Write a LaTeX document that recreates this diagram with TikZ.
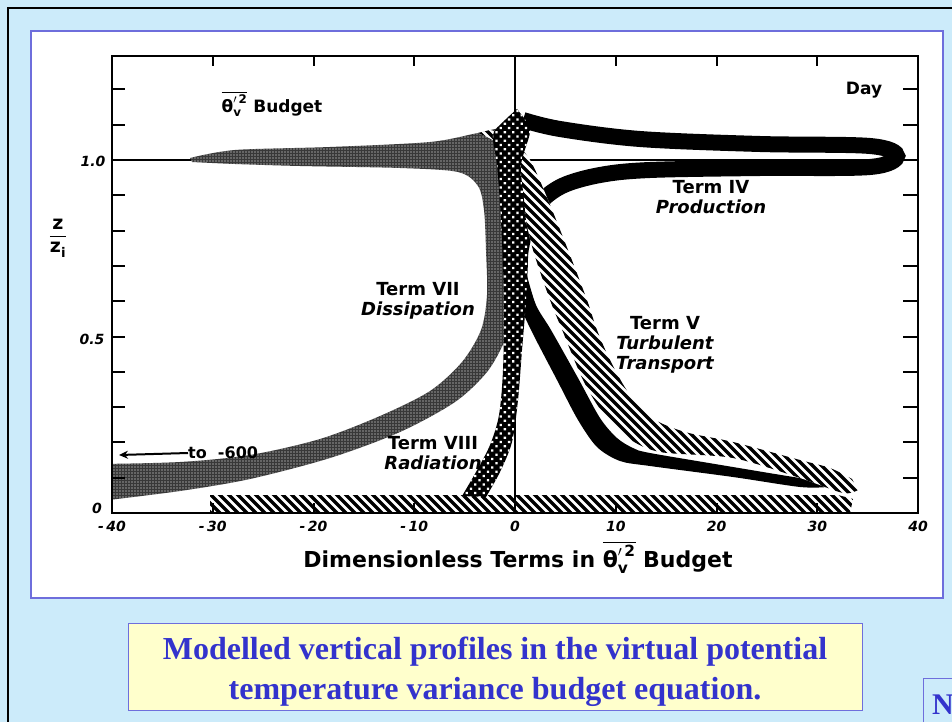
\documentclass[tikz,border=0pt]{standalone}
\usepackage{amsmath}
\usepackage{fontspec}
\setmainfont{Liberation Serif}
\newfontfamily\plotfont{DejaVu Sans}
\usetikzlibrary{patterns.meta,arrows.meta}
\definecolor{slidebg}{RGB}{204,235,250}
\definecolor{panelblue}{RGB}{110,110,220}
\definecolor{captionblue}{RGB}{51,51,204}
\definecolor{captionbg}{RGB}{255,255,204}
\newcommand{\thetavsq}{$\overline{\text{θ}^{\prime\,\text{2}}_{\text{v}}}$}

\begin{document}
\begin{tikzpicture}[x=1pt,y=-1pt]
\tikzstyle{every node}+=[inner sep=0pt]
\tikzstyle{plotlabel}=[font=\plotfont\bfseries\fontsize{18}{20}\selectfont,align=center]
\tikzstyle{ticklabel}=[font=\plotfont\bfseries\itshape\fontsize{14}{16}\selectfont]
\tikzstyle{dissband}=[preaction={fill=black!78},pattern={Dots[distance=3pt,radius=0.7pt]},pattern color=white]
\tikzstyle{hatchline}=[line width=3.4pt]
\tikzstyle{netband}=[preaction={fill=black},pattern={Dots[angle=45,distance=6pt,radius=1.6pt]},pattern color=white]
\clip (0,0) rectangle (952,722);
\fill[slidebg] (0,0) rectangle (952,722);
\draw[line width=2.5pt] (8,730) -- (8,8) -- (960,8);
\draw[panelblue,line width=1.5pt,fill=white] (31,31) rectangle (943,598);

% axes lines through 0 and 1.0
\draw[line width=1.2pt] (515,56) -- (515,513);
\draw[line width=1.2pt] (112,160) -- (918,160);

% bands
\begin{scope}
\clip (112,56) rectangle (918,513);
% term IV
\draw[line width=16pt] plot[smooth,tension=0.55] coordinates {(523,120) (560,129) (640,139) (760,144) (870,146) (897,156) (870,167) (760,168) (650,170) (600,175) (562,186) (538,205) (524,235) (518,270) (518,295)};
\fill plot[smooth] coordinates {(511,272) (520,305) (532,332) (557,380) (578,420) (597,447) (620,461) (650,466) (733,477) (800,487) (827,487)} -- plot[smooth] coordinates {(827,481) (800,478) (733,467) (650,453) (633,448) (617,438) (600,418) (578,378) (551,330) (536,305) (526,272)} -- cycle;
% term VII
\fill[dissband] plot[smooth] coordinates {(190,158) (235,150) (330,147) (430,142) (478,133) (503,130) (510,160) (512,210) (514,265) (513,310) (505,340) (487,372) (455,402) (400,432) (330,458) (250,479) (180,491) (100,501)} -- plot[smooth] coordinates {(100,464) (180,462) (250,455) (320,439) (380,416) (430,391) (462,362) (481,330) (487,295) (486,250) (484,210) (478,186) (458,172) (400,168) (300,166) (235,164) (192,162)} -- cycle;
% term V
\begin{scope}
\clip plot[smooth] coordinates {(478,133) (500,145) (512,170) (521,200) (533,250) (550,300) (563,332) (583,380) (603,413) (628,438) (660,452) (733,458) (800,478) (843,493) (858,490)} -- plot[smooth] coordinates {(852,479) (830,468) (800,460) (733,442) (685,432) (652,418) (628,392) (610,360) (597,330) (587,300) (568,250) (548,200) (530,160) (510,138) (490,130)} -- cycle;
\fill[white] (470,120) rectangle (870,500);
\foreach \c in {-400,-391,...,800}
  \draw[hatchline] (\c+100,100) -- (\c+520,520);
\end{scope}
\begin{scope}
\clip (210,495) -- (838,495) -- (853,499) -- (850,513) -- (210,513) -- cycle;
\foreach \c in {-320,-311,...,700}
  \draw[hatchline] (\c+480,480) -- (\c+520,520);
\end{scope}
% term VIII
\fill[netband] plot[smooth] coordinates {(517,109) (503,122) (493,135) (497,165) (501,220) (504,300) (503,370) (499,415) (490,445) (476,472) (462,496)} -- plot[smooth] coordinates {(486,497) (500,472) (512,442) (518,400) (522,350) (526,300) (528,250) (524,200) (521,165) (530,132) (524,118)} -- cycle;
\end{scope}

% frame and ticks
\draw[line width=2.2pt] (112,56) rectangle (918,513);
\foreach \k in {1,...,9,11,12} {
  \draw[line width=2pt] (112,{513-35.3*\k}) -- +(13,0);
  \draw[line width=2pt] (918,{513-35.3*\k}) -- +(-15,0);
}
\foreach \v in {-30,-20,-10,10,20,30} {
  \draw[line width=2pt] ({515+10.075*\v},513) -- +(0,-10);
  \draw[line width=2pt] ({515+10.075*\v},56) -- +(0,10);
}
\foreach \v/\t in {-40/-\,40,-30/-\,30,-20/-\,20,-10/-\,10,0/0,10/10,20/20,30/30,40/40}
  \node[ticklabel] (xt\v) at ({515+10.075*\v},526) {\t};
\node[ticklabel] (yt10) at (93,161) {1.0};
\node[ticklabel] (yt05) at (92,339) {0.5};
\node[ticklabel] (yt00) at (97,508) {0};
\node[font=\plotfont\bfseries\fontsize{19}{22}\selectfont] (ylabel) at (58,238) {$\dfrac{\text{z}}{\text{z}_{\text{i}}}$};
\node[font=\plotfont\bfseries\fontsize{22}{26}\selectfont] (xlabel) at (518,557) {Dimensionless Terms in \thetavsq\ Budget};

% labels
\node[plotlabel,font=\plotfont\bfseries\fontsize{17}{20}\selectfont] (budget) at (272,104) {\thetavsq\ Budget};
\node[plotlabel,font=\plotfont\bfseries\fontsize{17}{20}\selectfont] (day) at (864,90) {Day};
\node[plotlabel] (prod) at (711,197) {Term IV\\{\itshape Production}};
\node[plotlabel] (transp) at (665,345) {Term V\\{\itshape Turbulent}\\{\itshape Transport}};
\node[plotlabel] (dissip) at (418,301) {Term VII\\{\itshape Dissipation}};
\node[plotlabel] (radia) at (433,453) {Term VIII\\{\itshape Radiation}};
\node[plotlabel,font=\plotfont\bfseries\fontsize{16}{20}\selectfont,anchor=west] (tolabel) at (188,453) {to\ \ -600};
\coordinate (arrowtip) at (119,455);
\draw[line width=2pt,-{Stealth[length=9pt,width=8pt]}] (tolabel.west) -- (arrowtip);

% caption
\draw[panelblue,fill=captionbg,line width=1pt] (128,623) rectangle (862,710);
\node[align=center,text=captionblue,font=\bfseries\fontsize{32}{40}\selectfont] (caption) at (495,672) {Modelled vertical profiles in the virtual potential\\temperature variance budget equation.};
\draw[panelblue,line width=1pt] (960,678) -- (923,678) -- (923,730);
\node[anchor=west,text=captionblue,font=\bfseries\fontsize{30}{32}\selectfont] (nextbox) at (932,705) {N};
\end{tikzpicture}
\end{document}
